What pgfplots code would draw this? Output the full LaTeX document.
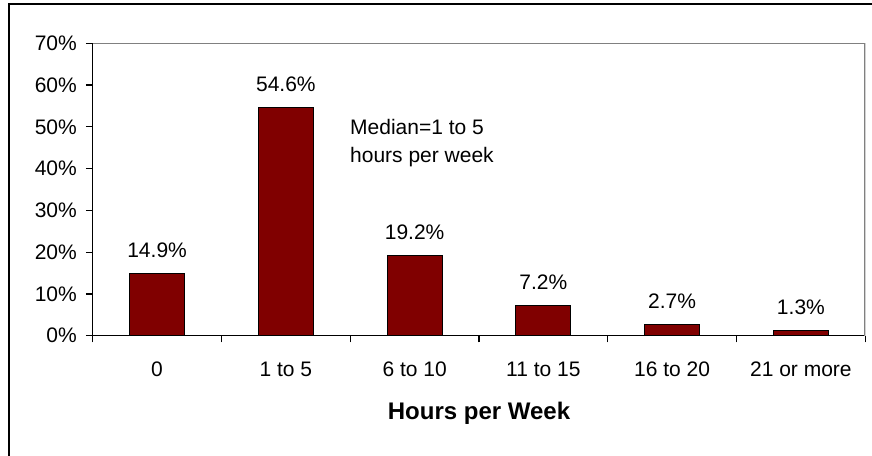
\documentclass[border=0pt]{standalone}
\usepackage{pgfplots}
\pgfplotsset{compat=1.18}
\usepackage{fontspec}
\setmainfont{Liberation Sans}
\definecolor{barred}{RGB}{128,0,0}
\definecolor{axgray}{RGB}{128,128,128}
\begin{document}
\fontsize{21}{25}\selectfont
\begin{tikzpicture}
\path[use as bounding box] (0pt,0pt) rectangle (872pt,455pt);
\draw[line width=1.5pt] (9pt,-10pt) -- (9pt,451pt) -- (885pt,451pt);
\begin{axis}[
  at={(92.7pt,119.3pt)}, anchor=south west,
  scale only axis, width=772.6pt, height=292.4pt,
  xmin=-0.5, xmax=5.5, ymin=0, ymax=70,
  ybar, bar width=55pt,
  axis x line*=bottom, axis y line*=left,
  axis line style={-, black, line width=1.5pt},
  tick align=outside, major tick length=6.7pt,
  tick style={black, line width=1.3pt},
  xtick={-0.5,0.5,1.5,2.5,3.5,4.5,5.5}, xticklabels={},
  extra x ticks={0,1,2,3,4,5},
  extra x tick labels={0,1 to 5,6 to 10,11 to 15,16 to 20,21 or more},
  extra x tick style={major tick length=0pt, tick style={draw=none},
    tick label style={yshift=-19pt}},
  ytick={0,10,20,30,40,50,60,70},
  yticklabels={0\%,10\%,20\%,30\%,40\%,50\%,60\%,70\%},
  yticklabel style={xshift=-2pt},
  xlabel={\fontsize{24}{28}\selectfont\bfseries Hours per Week},
  xlabel style={at={(axis description cs:0.5,-0.2883)}, anchor=base},
  nodes near coords={\pgfmathprintnumber[assume math mode=true,fixed,fixed zerofill,precision=1]{\pgfplotspointmeta}\%},
  every node near coord/.append style={anchor=base, yshift=16pt, black},
]
\addplot[fill=barred, draw=black, line width=1.2pt] coordinates {
  (0,14.9) (1,54.6) (2,19.2) (3,7.2) (4,2.7) (5,1.3)
};
\draw[axgray, line width=1.8pt] (rel axis cs:0,1) -- (rel axis cs:1,1) -- (rel axis cs:1,0);
\node[anchor=base west, inner sep=0pt] at (axis cs:1.498,48.05) {Median=1 to 5};
\node[anchor=base west, inner sep=0pt] at (axis cs:1.498,41.4) {hours per week};
\end{axis}
\end{tikzpicture}
\end{document}
